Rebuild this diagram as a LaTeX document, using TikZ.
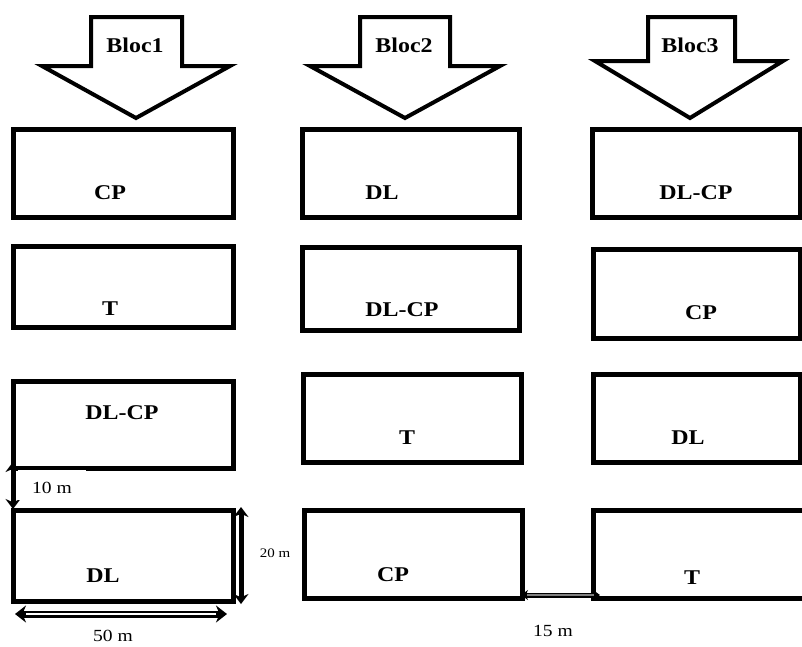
\documentclass[tikz,border=0pt]{standalone}
\usepackage{fontspec}
\setmainfont{Liberation Serif}
\usetikzlibrary{arrows.meta}
\tikzset{
  plot/.style={draw=black, line width=5pt, minimum width=#1, inner sep=0pt, outer sep=0pt},
  blocarrow/.style={draw=black, line width=4pt, line join=miter, fill=white},
  blabel/.style={font=\fontsize{21}{21}\selectfont\bfseries, xscale=1.14, transform shape, inner sep=0pt},
  dlabel/.style={font=\fontsize{17}{17}\selectfont, xscale=1.15, transform shape, inner sep=0pt},
  dimarrow/.style={line width=5pt, {Stealth[length=10pt,width=15pt]}-{Stealth[length=10pt,width=15pt]}},
}
\begin{document}
\begin{tikzpicture}[x=1pt,y=-1pt]
\useasboundingbox (0,0) rectangle (802,646);

% block arrows on top of each column
\draw[blocarrow] (91,17) -- (182,17) -- (182,66) -- (230,66) -- (136,118) -- (42,66) -- (91,66) -- cycle;
\draw[blocarrow] (360,17) -- (450,17) -- (450,66) -- (500,66) -- (405,118) -- (310,66) -- (360,66) -- cycle;
\draw[blocarrow] (648,17) -- (735,17) -- (735,61) -- (783,61) -- (690,118) -- (595,61) -- (648,61) -- cycle;
\node[blabel] (b1) at (135,45) {Bloc1};
\node[blabel] (b2) at (404,45) {Bloc2};
\node[blabel] (b3) at (690,45) {Bloc3};

% column 1
\node[plot=220pt, minimum height=88pt] (p11) at (123.5,173) {};
\node[plot=220pt, minimum height=81pt] (p12) at (123.5,287) {};
\node[plot=220pt, minimum height=87pt] (p13) at (123.5,424.5) {};
\node[plot=220pt, minimum height=91pt] (p14) at (123.5,555.5) {};
% column 2
\node[plot=217pt, minimum height=88pt] (p21) at (410.5,173) {};
\node[plot=217pt, minimum height=83pt] (p22) at (410.5,288.5) {};
\node[plot=218pt, minimum height=88pt] (p23) at (412,418) {};
\node[plot=218pt, minimum height=88pt] (p24) at (413,554) {};
% column 3 (runs off the right edge)
\node[plot=208pt, minimum height=88pt] (p31) at (696,173) {};
\node[plot=207pt, minimum height=89pt] (p32) at (696.5,293.5) {};
\node[plot=207pt, minimum height=88pt] (p33) at (696.5,418) {};
\node[plot=216pt, minimum height=88pt] (p34) at (701,554) {};

% crop labels
\node[blabel] (l11) at (110,193) {CP};
\node[blabel] (l12) at (110,309) {T};
\node[blabel] (l13) at (122,413) {DL-CP};
\node[blabel] (l14) at (103,576) {DL};
\node[blabel] (l21) at (382,193) {DL};
\node[blabel] (l22) at (402,310) {DL-CP};
\node[blabel] (l23) at (407,438) {T};
\node[blabel] (l24) at (393,575) {CP};
\node[blabel] (l31) at (696,193) {DL-CP};
\node[blabel] (l32) at (701,313) {CP};
\node[blabel] (l33) at (688,438) {DL};
\node[blabel] (l34) at (692,578) {T};

% spacing between plots (10 m)
\coordinate (v1) at (13,462);
\coordinate (v2) at (13,509);
\draw[dimarrow] (v1) -- (v2);
\node[fill=white, anchor=north west, minimum width=68pt, minimum height=30pt, inner sep=0pt] (t10box) at (18,469.5) {};
\node[dlabel] (t10) at (52,488) {10 m};

% plot height (20 m)
\coordinate (h1) at (241,507);
\coordinate (h2) at (241,604);
\draw[dimarrow] (h1) -- (h2);
\node[dlabel, font=\fontsize{13}{13}\selectfont] (t20) at (275,553) {20 m};

% plot length (50 m)
\coordinate (w1) at (15,614);
\coordinate (w2) at (227,614);
\draw[line width=7pt, {Stealth[length=11pt,width=17pt]}-{Stealth[length=11pt,width=17pt]}] (w1) -- (w2);
\draw[white, line width=2.2pt, shorten <=11pt, shorten >=11pt] (w1) -- (w2);
\node[dlabel] (t50) at (113,635.5) {50 m};

% gap between blocks (15 m)
\coordinate (g1) at (521,595);
\coordinate (g2) at (600,595);
\draw[line width=5pt, {Stealth[length=7pt,width=10pt]}-{Stealth[length=7pt,width=10pt]}] (g1) -- (g2);
\draw[gray, line width=1.5pt, shorten <=6pt, shorten >=6pt] (g1) -- (g2);
\node[dlabel] (t15) at (553,631) {15 m};
\end{tikzpicture}
\end{document}
